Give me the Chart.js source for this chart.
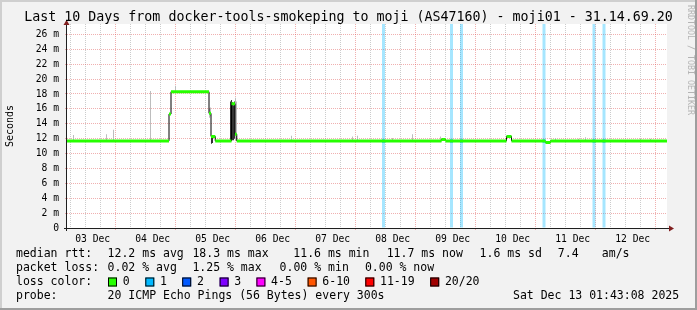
<!DOCTYPE html>
<html>
<head>
<meta charset="utf-8">
<script src="https://cdn.jsdelivr.net/npm/chart.js@4/dist/chart.umd.min.js"></script>
<style>
  html, body { margin: 0; padding: 0; background: #f2f2f2; }
</style>
</head>
<body>
<canvas id="smoke" width="697" height="310"></canvas>
<script>
// ---- data (x values are hours after Wed Dec 03 01:43:08, y in ms) ----
const titleText = 'Last 10 Days from docker-tools-smokeping to moji (AS47160) - moji01 - 31.14.69.20';
const dayLabels = ['03 Dec', '04 Dec', '05 Dec', '06 Dec', '07 Dec', '08 Dec', '09 Dec', '10 Dec', '11 Dec', '12 Dec'];
const gridStart = 4.281; // 06:00 on 03 Dec
const yTickValues = [0, 1, 2, 3, 4, 5, 6, 7, 8, 9, 10, 11, 12, 13, 14, 15, 16, 17, 18, 19, 20, 21, 22, 23, 24, 25, 26, 27];
const yTop = 27.4;

// median rtt, value holds from each time until the next one
const medianTimes  = [0,    40.8, 41.6, 56.8, 57.6, 59.3, 65.8, 67.2, 67.9, 149.8, 151.4, 175.8, 177.8, 191.4, 193.4, 240];
const medianValues = [11.7, 15.3, 18.3, 15.4, 12.3, 11.7, 16.7, 12.6, 11.7, 11.9,  11.7,  12.3,  11.7,  11.5,  11.7,  11.7];

// one lost ping out of 20
const lossTimes = [126.6, 153.8, 157.8, 190.8, 210.8, 214.8];

// smoke (spread of the 20 pings)
const lightSmokeTimes = [2.6,  15.8, 18.6, 33.4, 43.4, 57.0, 57.4, 67.4, 67.8, 89.8, 114.2, 116.2, 130.2, 138.2, 149.4, 195.4, 204.6, 207.4, 229.4, 233.4];
const lightSmokeLow   = [11.7, 11.7, 11.7, 11.7, 18.3, 14.8, 15.0, 11.8, 11.8, 11.7, 11.7,  11.7,  11.7,  11.7,  11.7,  11.7,  11.7,  11.7,  11.7,  11.7];
const lightSmokeHigh  = [12.5, 12.6, 13.2, 18.4, 19.1, 16.0, 16.2, 17.5, 17.0, 12.4, 12.3,  12.4,  12.1,  12.6,  12.3,  12.1,  12.0,  12.2,  12.0,  12.0];
const darkSmokeTimes  = [57.8, 58.2, 65.4, 65.8, 66.2, 66.6, 67.0];
const darkSmokeLow    = [11.3, 11.4, 11.8, 11.8, 11.8, 11.8, 12.0];
const darkSmokeHigh   = [12.2, 12.2, 17.0, 17.2, 16.9, 16.5, 17.0];

// legend
const rttStats  = ['12.2 ms avg', '18.3 ms max', '11.6 ms min', '11.7 ms now', '1.6 ms sd', '7.4', 'am/s'];
const lossStats = ['0.02 % avg', '1.25 % max', '0.00 % min', '0.00 % now'];
const lossLabels = ['0', '1', '2', '3', '4-5', '6-10', '11-19', '20/20'];
const lossColors = ['#26ff00', '#00b8ff', '#0059ff', '#7e00ff', '#ff00ff', '#ff5500', '#ff0000', '#a10000'];
const probeText = '20 ICMP Echo Pings (56 Bytes) every 300s';
const stampText = 'Sat Dec 13 01:43:08 2025';

// ---- styling ----
const MONO = "'DejaVu Sans Mono', monospace";
const GRID = 'rgba(143,143,143,0.45)';
const MGRID = 'rgba(222,79,79,0.45)';
const ARROW = '#801f1f';
const AXIS = '#1f1f1f';

const gridHours = Array.from({ length: 40 }, (_, i) => gridStart + 6 * i);

const medianAt = (t) => {
    let v = medianValues[0];
    medianTimes.forEach((mt, i) => { if (mt <= t) v = medianValues[i]; });
    return v;
};

const greenData = [];
for (let i = 0; i < medianTimes.length - 1; i++) {
    greenData.push({ x: medianTimes[i], y: medianValues[i] });
    greenData.push({ x: medianTimes[i + 1], y: medianValues[i] });
    greenData.push({ x: medianTimes[i + 1], y: null });
}
const blueData = [];
lossTimes.forEach(t => {
    const m = medianAt(t);
    blueData.push({ x: t - 0.6, y: m }, { x: t + 0.6, y: m }, { x: t + 0.6, y: null });
});

const frame = {
    id: 'frame',
    beforeDraw(chart) {
        const { ctx, width, height, chartArea: a } = chart;
        ctx.save();
        ctx.fillStyle = '#f2f2f2';
        ctx.fillRect(0, 0, width, height);
        ctx.fillStyle = '#cfcfcf';
        ctx.fillRect(0, 0, width, 2);
        ctx.fillRect(0, 0, 2, height);
        ctx.fillStyle = '#9e9e9e';
        ctx.fillRect(0, height - 2, width, 2);
        ctx.fillRect(width - 2, 0, 2, height);
        ctx.fillStyle = '#ffffff';
        ctx.fillRect(a.left, a.top, a.right - a.left, a.bottom - a.top);
        ctx.restore();
    },
    afterDraw(chart) {
        const { ctx, width, chartArea: a } = chart;
        ctx.save();
        // axes
        ctx.strokeStyle = AXIS;
        ctx.lineWidth = 1;
        ctx.beginPath();
        ctx.moveTo(a.left - 3, a.bottom + 0.5);
        ctx.lineTo(a.right + 3, a.bottom + 0.5);
        ctx.moveTo(a.left - 0.5, a.bottom + 3);
        ctx.lineTo(a.left - 0.5, a.top - 1);
        ctx.stroke();
        ctx.fillStyle = ARROW;
        ctx.beginPath();
        ctx.moveTo(a.right + 7, a.bottom + 0.5);
        ctx.lineTo(a.right + 2, a.bottom - 2.5);
        ctx.lineTo(a.right + 2, a.bottom + 3.5);
        ctx.fill();
        ctx.beginPath();
        ctx.moveTo(a.left - 0.5, a.top - 4);
        ctx.lineTo(a.left - 3.5, a.top + 1);
        ctx.lineTo(a.left + 2.5, a.top + 1);
        ctx.fill();

        // title
        ctx.fillStyle = '#000';
        ctx.textBaseline = 'middle';
        ctx.textAlign = 'center';
        ctx.font = '13.3px ' + MONO;
        ctx.fillText(titleText, width / 2, 18);

        // watermark
        ctx.save();
        ctx.translate(690, 5);
        ctx.rotate(Math.PI / 2);
        ctx.textAlign = 'left';
        ctx.fillStyle = '#b4b4b4';
        ctx.font = '8.3px ' + MONO;
        ctx.fillText('RRDTOOL / TOBI OETIKER', 0, 0);
        ctx.restore();

        // legend rows
        ctx.textAlign = 'left';
        ctx.font = '11.5px ' + MONO;
        const rows = [254, 268, 282, 296];
        ctx.fillText('median rtt:', 16, rows[0]);
        [107.6, 192.4, 293.3, 386.7, 479.6, 557.8, 601.8].forEach((x, i) => ctx.fillText(rttStats[i], x, rows[0]));
        ctx.fillText('packet loss:', 16, rows[1]);
        [107.6, 192.4, 279.6, 364.9].forEach((x, i) => ctx.fillText(lossStats[i], x, rows[1]));
        ctx.fillText('loss color:', 16, rows[2]);
        [108, 145.3, 182.2, 219.6, 256.4, 307.6, 365.3, 430.2].forEach((x, i) => {
            ctx.fillStyle = lossColors[i];
            ctx.fillRect(x, rows[2] - 4.5, 9, 9);
            ctx.strokeStyle = '#000';
            ctx.strokeRect(x + 0.5, rows[2] - 4, 8, 8);
            ctx.fillStyle = '#000';
            ctx.fillText(lossLabels[i], x + 14.7, rows[2]);
        });
        ctx.fillText('probe:', 16, rows[3]);
        ctx.fillText(probeText, 107.6, rows[3]);
        ctx.fillText(stampText, 513, rows[3]);
        ctx.restore();
    }
};

new Chart(document.getElementById('smoke'), {
    type: 'line',
    data: {
        datasets: [
            {
                label: 'median',
                data: greenData,
                borderColor: lossColors[0],
                borderWidth: 3,
                pointRadius: 0,
                spanGaps: false,
                order: 0
            },
            {
                label: 'median loss 1',
                data: blueData,
                borderColor: lossColors[1],
                borderWidth: 3,
                pointRadius: 0,
                spanGaps: false,
                order: 0
            },
            {
                label: 'median step',
                data: medianTimes.map((t, i) => ({ x: t, y: medianValues[i] })),
                stepped: 'before',
                borderColor: '#000',
                borderWidth: 1,
                pointRadius: 0,
                order: 1
            },
            {
                type: 'bar',
                label: 'dark smoke',
                data: darkSmokeTimes.map((t, i) => ({ x: t, y: [darkSmokeLow[i], darkSmokeHigh[i]] })),
                backgroundColor: '#333333',
                borderWidth: 0,
                barThickness: 1,
                inflateAmount: 0,
                stack: 'marks',
                order: 2
            },
            {
                type: 'bar',
                label: 'light smoke',
                data: lightSmokeTimes.map((t, i) => ({ x: t, y: [lightSmokeLow[i], lightSmokeHigh[i]] })),
                backgroundColor: '#bdbdbd',
                borderWidth: 0,
                barThickness: 1,
                inflateAmount: 0,
                stack: 'marks',
                order: 3
            },
            {
                type: 'bar',
                label: 'loss',
                data: lossTimes.map(t => ({ x: t, y: [0, yTop] })),
                backgroundColor: 'rgba(0,184,255,0.35)',
                borderWidth: 0,
                barThickness: 3,
                inflateAmount: 0,
                stack: 'marks',
                order: 4
            }
        ]
    },
    options: {
        responsive: false,
        animation: false,
        devicePixelRatio: 1,
        layout: { padding: { top: 24, right: 30, bottom: 62, left: 0 } },
        plugins: {
            legend: { display: false },
            tooltip: { enabled: false },
            title: { display: false }
        },
        scales: {
            x: {
                type: 'linear',
                min: 0,
                max: 240,
                offset: false,
                afterBuildTicks: s => { s.ticks = gridHours.map(v => ({ value: v })); },
                afterFit: s => { s.height = 20; },
                border: { display: false, dash: [1, 1] },
                grid: {
                    color: c => (c.index % 4 === 3 ? MGRID : GRID),
                    tickColor: c => (c.index % 4 === 3 ? MGRID : 'transparent'),
                    tickLength: 2,
                    borderDash: [1, 1]
                },
                ticks: {
                    autoSkip: false,
                    maxRotation: 0,
                    padding: 4,
                    color: '#000',
                    font: { family: MONO, size: 9.7 },
                    callback: (v, i) => (i % 4 === 1 ? dayLabels[(i - 1) / 4] : '')
                }
            },
            y: {
                min: 0,
                max: yTop,
                stacked: false,
                afterBuildTicks: s => { s.ticks = yTickValues.map(v => ({ value: v })); },
                afterFit: s => { s.width = 67; },
                border: { display: false, dash: [1, 1] },
                grid: {
                    color: c => (c.tick.value === 0 ? 'transparent' : (c.tick.value % 2 === 0 ? MGRID : GRID)),
                    tickColor: c => (c.tick.value % 2 === 0 ? MGRID : GRID),
                    tickLength: 2,
                    borderDash: [1, 1]
                },
                title: {
                    display: true,
                    text: 'Seconds',
                    color: '#000',
                    font: { family: MONO, size: 10 },
                    padding: { top: 4, bottom: 0 }
                },
                ticks: {
                    padding: 6,
                    color: '#000',
                    font: { family: MONO, size: 9.7 },
                    callback: v => (v === 0 ? '0' : (v % 2 === 0 ? v + ' m' : ''))
                }
            }
        }
    },
    plugins: [frame]
});
</script>
</body>
</html>
